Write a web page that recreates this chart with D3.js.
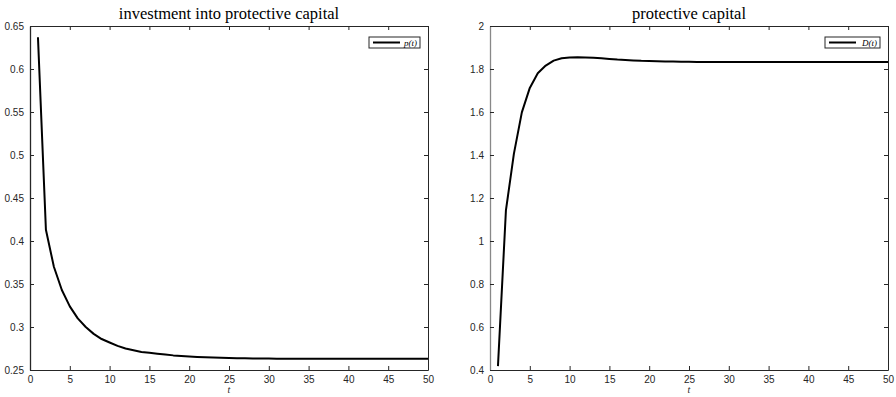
<!DOCTYPE html>
<html>
<head>
<meta charset="utf-8">
<script src="https://cdn.jsdelivr.net/npm/d3@7"></script>
<style>
  body { margin: 0; background: #fff; }
  svg { display: block; }
  .tick text { font-family: "Liberation Sans", Arial, sans-serif; font-size: 10px; fill: #262626; }
  .ttl { font-family: "Liberation Serif", "DejaVu Serif", serif; font-size: 16.5px; fill: #000; }
  .xl { font-family: "Liberation Serif", serif; font-style: italic; font-size: 10px; fill: #262626; }
  .lg { font-family: "Liberation Serif", serif; font-style: italic; font-size: 9px; fill: #000; }
</style>
</head>
<body>
<div id="chart"></div>
<script>
// time steps
var tVals = d3.range(1, 51);

// p(t) - investment into protective capital
var pVals = [0.637, 0.413, 0.370, 0.343, 0.324, 0.310, 0.300, 0.292, 0.286, 0.282,
             0.278, 0.275, 0.273, 0.271, 0.270, 0.269, 0.268, 0.267, 0.2663, 0.2657,
             0.2652, 0.2648, 0.2645, 0.2642, 0.2640, 0.2638, 0.2636, 0.2635, 0.2634, 0.2633,
             0.2632, 0.2631, 0.2631, 0.2630, 0.2630, 0.2630, 0.2630, 0.2630, 0.2630, 0.2630,
             0.2630, 0.2630, 0.2630, 0.2630, 0.2630, 0.2630, 0.2630, 0.2630, 0.2630, 0.2630];

// D(t) - protective capital
var dVals = [0.418, 1.142, 1.405, 1.598, 1.712, 1.780, 1.816, 1.839, 1.850, 1.854,
             1.855, 1.854, 1.852, 1.850, 1.847, 1.844, 1.842, 1.840, 1.838, 1.837,
             1.836, 1.835, 1.835, 1.834, 1.834, 1.833, 1.833, 1.833, 1.832, 1.832,
             1.832, 1.832, 1.832, 1.832, 1.832, 1.832, 1.832, 1.832, 1.832, 1.832,
             1.832, 1.832, 1.832, 1.832, 1.832, 1.832, 1.832, 1.832, 1.832, 1.832];

var xTicks = d3.range(0, 51, 5);
var pTicks = [0.25, 0.3, 0.35, 0.4, 0.45, 0.5, 0.55, 0.6, 0.65];
var dTicks = [0.4, 0.6, 0.8, 1, 1.2, 1.4, 1.6, 1.8, 2];

var W = 896, H = 397;
var svg = d3.select("#chart").append("svg").attr("width", W).attr("height", H);

var panels = [
  {left: 30, right: 428, title: "investment into protective capital", vals: pVals,
   dom: [0.25, 0.65], ticks: pTicks, leg: "p(t)", axisCol: "#262626"},
  {left: 490, right: 888, title: "protective capital", vals: dVals,
   dom: [0.4, 2], ticks: dTicks, leg: "D(t)", axisCol: "#888"}
];
var plotTop = 26, plotBottom = 370;

panels.forEach(function(p) {
  var x = d3.scaleLinear().domain([0, 50]).range([p.left, p.right]);
  var y = d3.scaleLinear().domain(p.dom).range([plotBottom, plotTop]);
  var g = svg.append("g");

  // axes with inward ticks (box on)
  var xa = g.append("g").attr("transform", "translate(0," + plotBottom + ")")
    .call(d3.axisBottom(x).tickValues(xTicks).tickSizeInner(-4).tickSizeOuter(0).tickPadding(7).tickFormat(d3.format("d")));
  var xt = g.append("g").attr("transform", "translate(0," + plotTop + ")")
    .call(d3.axisTop(x).tickValues(xTicks).tickSizeInner(-4).tickSizeOuter(0).tickFormat(""));
  var ya = g.append("g").attr("transform", "translate(" + p.left + ",0)")
    .call(d3.axisLeft(y).tickValues(p.ticks).tickSizeInner(-4).tickSizeOuter(0).tickPadding(7).tickFormat(function(d){ return String(d); }));
  var yr = g.append("g").attr("transform", "translate(" + p.right + ",0)")
    .call(d3.axisRight(y).tickValues(p.ticks).tickSizeInner(-4).tickSizeOuter(0).tickFormat(""));
  [xa, xt, yr].forEach(function(a){
    a.select(".domain").attr("stroke", "#262626");
    a.selectAll(".tick line").attr("stroke", "#262626");
  });
  ya.select(".domain").attr("stroke", p.axisCol).attr("stroke-width", 1.3);
  ya.selectAll(".tick line").attr("stroke", "#262626");
  xa.selectAll("text").attr("dy", "0.6em");
  ya.selectAll("text").attr("dx", "1px");

  // line
  var line = d3.line().x(function(d, i){ return x(tVals[i]); }).y(function(d){ return y(d); });
  g.append("path").datum(p.vals)
    .attr("fill", "none").attr("stroke", "#000").attr("stroke-width", 2)
    .attr("stroke-linejoin", "round").attr("d", line);

  // title
  g.append("text").attr("class", "ttl")
    .attr("x", (p.left + p.right) / 2).attr("y", 19)
    .attr("text-anchor", "middle").text(p.title);

  // x label
  g.append("text").attr("class", "xl")
    .attr("x", (p.left + p.right) / 2).attr("y", 393)
    .attr("text-anchor", "middle").text("t");

  // legend
  var lw = p.leg === "p(t)" ? 51 : 55;
  var lx = p.right - 8 - lw, ly = 37;
  g.append("rect").attr("x", lx).attr("y", ly).attr("width", lw).attr("height", 11)
    .attr("fill", "#fff").attr("stroke", "#262626").attr("stroke-width", 1);
  g.append("line").attr("x1", lx + 4).attr("x2", lx + 31).attr("y1", ly + 5.5).attr("y2", ly + 5.5)
    .attr("stroke", "#000").attr("stroke-width", 2);
  g.append("text").attr("class", "lg").attr("x", lx + lw - 3).attr("y", ly + 8.5)
    .attr("text-anchor", "end").text(p.leg);
});
</script>
</body>
</html>
